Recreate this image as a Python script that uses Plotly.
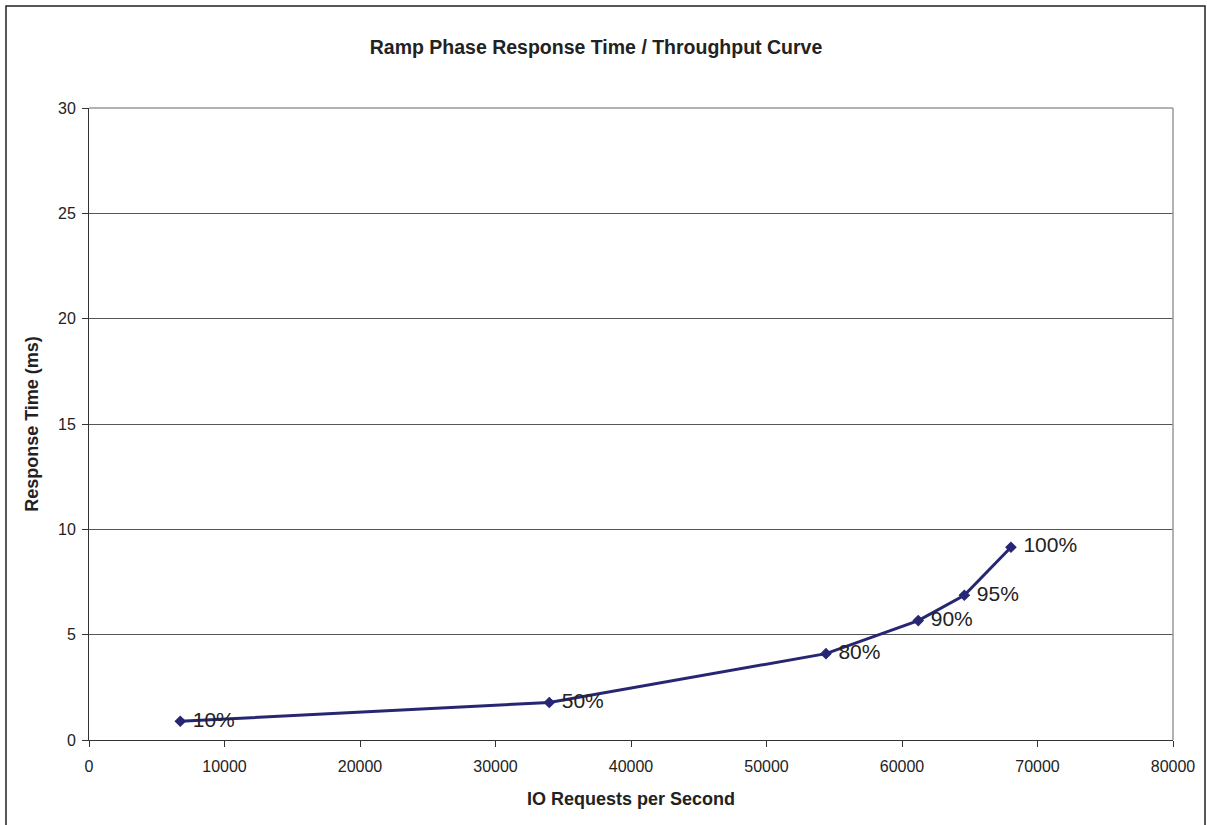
import plotly.graph_objects as go

io_rates = [6738, 33970, 54390, 61200, 64600, 68040]
response_ms = [0.89, 1.78, 4.10, 5.67, 6.87, 9.15]
load_labels = ["10%", "50%", "80%", "90%", "95%", "100%"]

x_ticks = [0, 10000, 20000, 30000, 40000, 50000, 60000, 70000, 80000]
y_ticks = [0, 5, 10, 15, 20, 25, 30]

FONT = "Liberation Sans, Arial, sans-serif"
W, H = 1207, 825
L, R, T, B = 89, 34, 108, 85
pw, ph = W - L - R, H - T - B

def px_x(p):
    return (p - L) / pw

def px_y(p):
    return (H - B - p) / ph

fig = go.Figure()
fig.add_trace(go.Scatter(
    x=io_rates, y=response_ms, mode="lines+markers+text",
    text=[" " + s for s in load_labels], textposition="middle right",
    textfont=dict(family=FONT, size=21, color="#222222"),
    line=dict(color="#262673", width=3),
    marker=dict(symbol="diamond", size=9, color="#262673"),
    cliponaxis=False, showlegend=False,
))

fig.update_layout(
    width=W, height=H,
    margin=dict(l=L, r=R, t=T, b=B),
    paper_bgcolor="white", plot_bgcolor="white",
    font=dict(family=FONT, color="#222222"),
    title=dict(text="<b>Ramp Phase Response Time / Throughput Curve</b>",
               x=596 / W, xanchor="center", y=1 - 47 / H, yanchor="middle",
               font=dict(family=FONT, size=19.5, color="#222222")),
    xaxis=dict(range=[0, 80000], tickvals=x_ticks, ticktext=[str(v) for v in x_ticks],
               showgrid=False, zeroline=False, showline=True, linecolor="#333333", linewidth=1,
               ticks="outside", ticklen=6, tickcolor="#333333", ticklabelstandoff=6,
               tickfont=dict(family=FONT, size=16, color="#222222"),
               title=dict(text="<b>IO Requests per Second</b>", standoff=18,
                          font=dict(family=FONT, size=18, color="#222222"))),
    yaxis=dict(range=[0, 30], tickvals=y_ticks, ticktext=[str(v) for v in y_ticks],
               showgrid=True, gridcolor="#555555", gridwidth=1, zeroline=False,
               showline=True, linecolor="#333333", linewidth=1,
               ticks="outside", ticklen=6, tickcolor="#333333", ticklabelstandoff=3,
               tickfont=dict(family=FONT, size=16, color="#222222"),
               title=dict(text="<b>Response Time (ms)</b>", standoff=14,
                          font=dict(family=FONT, size=18, color="#222222"))),
    shapes=[
        dict(type="line", xref="paper", yref="paper", x0=1, x1=1, y0=0, y1=1,
             line=dict(color="#999999", width=1.5)),
        dict(type="line", xref="paper", yref="paper", x0=0, x1=1, y0=1, y1=1,
             line=dict(color="#999999", width=1.5)),
        dict(type="rect", xref="paper", yref="paper",
             x0=px_x(6), x1=px_x(1205), y0=px_y(830), y1=px_y(6),
             line=dict(color="#222222", width=1.5), fillcolor="rgba(0,0,0,0)", layer="below"),
    ],
)

fig.write_html("out.html", config={"displayModeBar": False},
               post_script="document.body.style.margin='0';")
